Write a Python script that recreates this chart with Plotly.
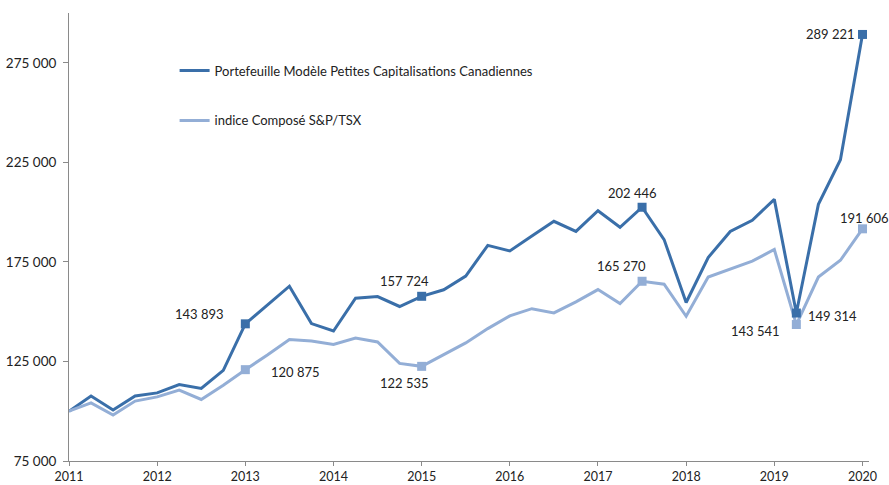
import plotly.graph_objects as go

# ---- data ----
x_years = [2011 + i / 4 for i in range(37)]
portefeuille = [100000, 107600, 100600, 107700, 109200, 113400, 111400, 120500,
                143893, 153200, 162800, 144000, 140300, 156800, 157600, 152600,
                157724, 161000, 167900, 183300, 180500, 188000, 195400, 190300,
                200700, 192400, 202446, 186200, 154600, 177200, 190300, 195900,
                206400, 149314, 203900, 226300, 289221]
indice = [100000, 104200, 98100, 105100, 107200, 110600, 105900, 113100,
          120875, 128200, 136000, 135300, 133500, 136800, 134800, 124000,
          122535, 128500, 134300, 141500, 147900, 151500, 149400, 154900,
          161100, 154100, 165270, 163800, 147700, 167400, 171600, 175400,
          181200, 143541, 167400, 175800, 191606]
names = ["Portefeuille Modèle Petites Capitalisations Canadiennes",
         "indice Composé S&P/TSX"]
# indices of highlighted (labelled) points
port_marked = [8, 16, 26, 33, 36]
ind_marked = [8, 16, 26, 33, 36]
y_tickvals = [75000, 125000, 175000, 225000, 275000]
y_ticktext = ["75 000", "125 000", "175 000", "225 000", "275 000"]
x_tickvals = list(range(2011, 2021))
x_ticktext = [str(y) for y in x_tickvals]

DARK = "#3A6FA9"
LIGHT = "#93AED6"
FONT = "Lato"


def fmt(v):
    return f"{v:,}".replace(",", " ")


fig = go.Figure()
fig.add_trace(go.Scatter(x=x_years, y=portefeuille, mode="lines", name=names[0],
                         line=dict(color=DARK, width=3), legendgroup="a"))
fig.add_trace(go.Scatter(x=x_years, y=indice, mode="lines", name=names[1],
                         line=dict(color=LIGHT, width=3), legendgroup="b"))
fig.add_trace(go.Scatter(x=[x_years[i] for i in ind_marked], y=[indice[i] for i in ind_marked],
                         mode="markers", showlegend=False,
                         marker=dict(symbol="square", size=9, color=LIGHT)))
fig.add_trace(go.Scatter(x=[x_years[i] for i in port_marked], y=[portefeuille[i] for i in port_marked],
                         mode="markers", showlegend=False,
                         marker=dict(symbol="square", size=9, color=DARK)))

# label placements (pixel offsets relative to the point)
port_off = {8: (-46, 10), 16: (-17, 15), 26: (-10, 14), 33: (36, -3), 36: (-32, 0)}
ind_off = {8: (50, -2), 16: (-17, -17), 26: (-21, 15), 33: (-41, -6), 36: (2, 11)}
anns = []
for i, (dx, dy) in port_off.items():
    anns.append(dict(x=x_years[i], y=portefeuille[i], text=fmt(portefeuille[i]), showarrow=False,
                     xshift=dx, yshift=dy, font=dict(family=FONT, size=13, color="#222")))
for i, (dx, dy) in ind_off.items():
    anns.append(dict(x=x_years[i], y=indice[i], text=fmt(indice[i]), showarrow=False,
                     xshift=dx, yshift=dy, font=dict(family=FONT, size=13, color="#222")))

fig.update_layout(
    width=889, height=485,
    margin=dict(l=69, r=20, t=13, b=24),
    paper_bgcolor="white", plot_bgcolor="white",
    font=dict(family=FONT, size=12, color="#222"),
    annotations=anns,
    showlegend=True,
    legend=dict(x=0.132, y=0.905, xanchor="left", yanchor="top",
                bgcolor="rgba(0,0,0,0)", font=dict(family=FONT, size=13, color="#222"),
                tracegroupgap=30, itemwidth=30),
    xaxis=dict(range=[2011, 2020.074], tickvals=x_tickvals, ticktext=x_ticktext,
               showgrid=False, zeroline=False, showline=True, linecolor="#8a8a8a",
               linewidth=1, ticks="outside", ticklen=4, tickcolor="#8a8a8a",
               automargin=False,
               tickfont=dict(family=FONT, size=12.5, color="#222")),
    yaxis=dict(range=[75000, 300000], tickvals=y_tickvals, ticktext=y_ticktext,
               showgrid=False, zeroline=False, showline=True, linecolor="#8a8a8a",
               linewidth=1, ticks="outside", ticklen=5, tickcolor="#8a8a8a",
               automargin=False, ticklabelstandoff=4,
               tickfont=dict(family=FONT, size=13.5, color="#222")),
)

fig.write_html("out.html", config={"displayModeBar": False},
               post_script="document.body.style.margin='0px';document.body.style.overflow='hidden';")
